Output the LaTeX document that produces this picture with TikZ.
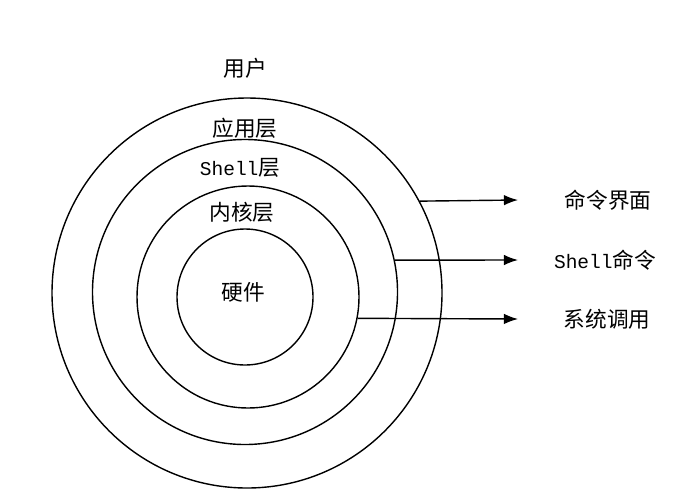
\documentclass[tikz,border=0pt]{standalone}
\usepackage{fontspec}
\setmainfont{Noto Sans CJK SC}
\newfontfamily\latinmono{Liberation Mono}[Scale=0.9]
\usetikzlibrary{positioning,arrows.meta,calc}
\newcommand{\shell}{{\latinmono Shell}}

\begin{document}
\begin{tikzpicture}[
    x=0.03cm, y=-0.03cm,
    font=\fontsize{18.5}{22}\selectfont,
    ring/.style={circle, draw, line width=1.2pt, inner sep=0pt},
    txt/.style={inner sep=1pt, align=center},
    arrow/.style={-{Latex[length=12pt,width=9pt]}, line width=1.2pt}
  ]
  \useasboundingbox (0,0) rectangle (684,502);

  % ----- Rings, outermost first -----
  \node[ring, minimum size=390*0.03cm] (app)  at (247,293) {};
  \node[ring, minimum size=305*0.03cm] (shl)  at (245,292) {};
  \node[ring, minimum size=222*0.03cm] (krn)  at (248,297) {};
  \node[ring, minimum size=136*0.03cm] (hw)   at (245,297) {};

  % ----- Layer labels -----
  \node[txt] (user)   at (245,68)  {用户};
  \node[txt] (applbl) at (245,128) {应用层};
  \node[txt] (shllbl) at (240,168) {\shell 层};
  \node[txt] (krnlbl) at (242,212) {内核层};
  \node[txt] (hwlbl)  at (243,292) {硬件};

  % ----- Interface labels -----
  \node[txt] (cmdui)  at (608,200) {命令界面};
  \node[txt] (shcmd)  at (605,260) {\shell 命令};
  \node[txt] (sysc)   at (607,319) {系统调用};

  \coordinate (t1) at (518,200);
  \coordinate (t2) at (518,260);
  \coordinate (t3) at (518,319);

  \draw[arrow] (app.28.5) -- (t1);
  \draw[arrow] (shl.12.2) -- (t2);
  \draw[arrow] (krn.-11.6) -- (t3);
\end{tikzpicture}
\end{document}
